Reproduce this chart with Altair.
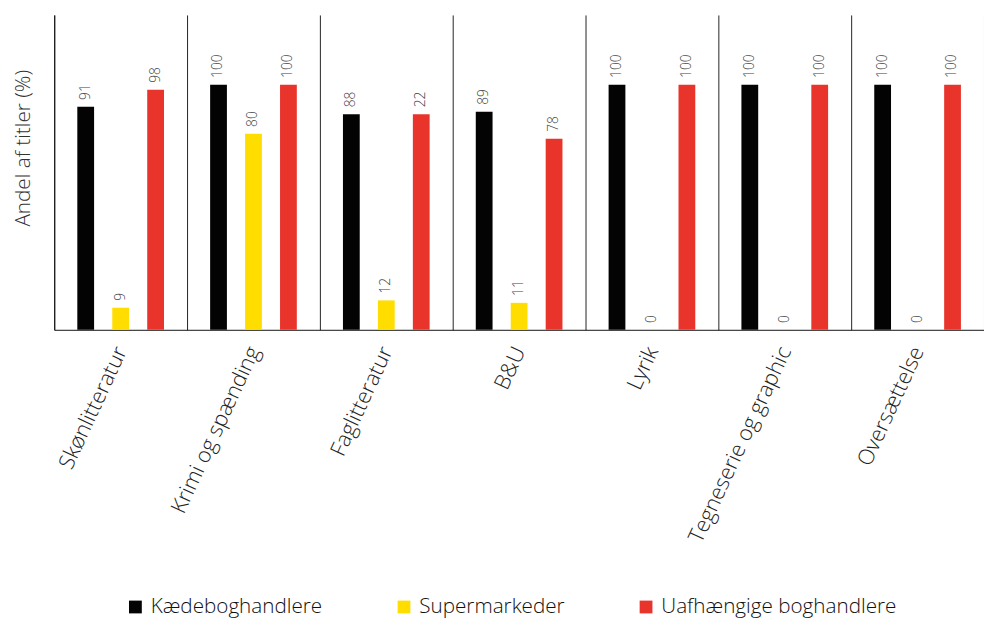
import altair as alt
import pandas as pd

FONT = "Open Sans"

categories = ["Skønlitteratur", "Krimi og spænding", "Faglitteratur", "B&U",
              "Lyrik", "Tegneserie og graphic", "Oversættelse"]
series = ["Kædeboghandlere", "Supermarkeder", "Uafhængige boghandlere"]
colors = ["#020302", "#FFDD00", "#E8342B"]

kaede = [91, 100, 88, 89, 100, 100, 100]
kaede_labels = ["91", "100", "88", "89", "100", "100", "100"]
supermarked = [9, 80, 12, 11, 0, 0, 0]
supermarked_labels = ["9", "80", "12", "11", "0", "0", "0"]
uafhaengig = [98, 100, 88, 78, 100, 100, 100]
uafhaengig_labels = ["98", "100", "22", "78", "100", "100", "100"]

rows = []
for vals, labs, s in [(kaede, kaede_labels, series[0]),
                      (supermarked, supermarked_labels, series[1]),
                      (uafhaengig, uafhaengig_labels, series[2])]:
    for c, v, l in zip(categories, vals, labs):
        rows.append({"Kategori": c, "Serie": s, "Vaerdi": v, "Label": l})
df = pd.DataFrame(rows)

base = alt.Chart(df).encode(
    x=alt.X("Kategori:N", sort=categories,
            scale=alt.Scale(paddingInner=0, paddingOuter=0),
            axis=alt.Axis(title=None, labelAngle=-65, labelFontSize=22,
                          labelFont=FONT, labelFontWeight=300, labelColor="#222222",
                          labelPadding=18, ticks=False, grid=True, tickBand="extent",
                          gridColor="#222222", gridWidth=1, gridOpacity=1,
                          domainColor="#111111", domainWidth=1, labelLimit=400)),
    xOffset=alt.XOffset("Serie:N", sort=series,
                        scale=alt.Scale(paddingInner=0.52, paddingOuter=0.66)),
    y=alt.Y("Vaerdi:Q", scale=alt.Scale(domain=[0, 128.5], nice=False),
            axis=alt.Axis(title="Andel af titler (%)", labels=False, ticks=False,
                          grid=False, domainColor="#111111", domainWidth=1,
                          titleFont=FONT, titleFontSize=21, titleFontWeight=300,
                          titleColor="#333333", titleX=-21, titleY=135,
                          titleAngle=270, titleAlign="center", titleBaseline="bottom")),
)

bars = base.mark_bar().encode(
    color=alt.Color("Serie:N", sort=series,
                    scale=alt.Scale(domain=series, range=colors),
                    legend=alt.Legend(title=None, orient="none", legendX=72, legendY=591,
                                      direction="horizontal", symbolType="square",
                                      symbolSize=169, symbolStrokeWidth=0,
                                      labelFont=FONT, labelFontSize=21, labelFontWeight=300,
                                      labelColor="#111111", columnPadding=72,
                                      labelOffset=5, padding=0, labelLimit=400)),
)

text = base.mark_text(angle=270, align="left", baseline="middle", dx=7,
                      fontSize=14, font=FONT, fontWeight=300, color="#444444").encode(
    text="Label:N"
)

chart = alt.layer(bars, text).properties(
    width=945, height=320,
    background="white",
    autosize=alt.AutoSizeParams(type="none"),
    padding={"left": 47, "top": 2, "right": 0, "bottom": 296},
).configure_view(stroke="transparent", strokeWidth=0)

chart.save("out.html", embed_options={"renderer": "svg", "actions": False})
